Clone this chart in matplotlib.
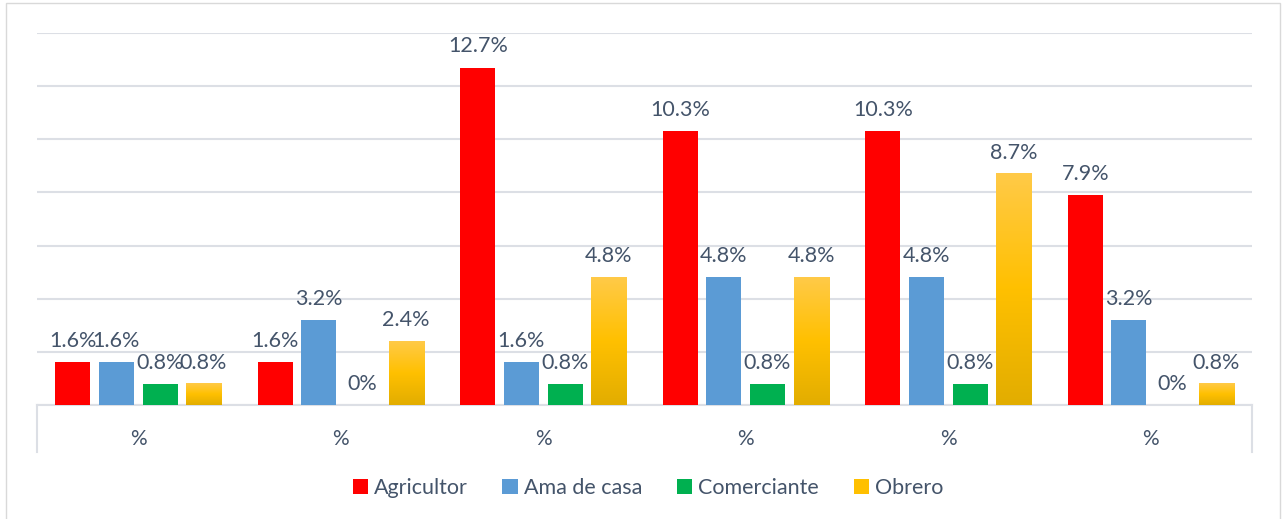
import numpy as np
import matplotlib.pyplot as plt
from matplotlib.colors import LinearSegmentedColormap
from matplotlib.patches import Patch, Rectangle

plt.rcParams['font.family'] = ['Lato', 'DejaVu Sans']

# datos
grupos = ['%', '%', '%', '%', '%', '%']
series = ['Agricultor', 'Ama de casa', 'Comerciante', 'Obrero']
agricultor = [1.6, 1.6, 12.7, 10.3, 10.3, 7.9]
ama_de_casa = [1.6, 3.2, 1.6, 4.8, 4.8, 3.2]
comerciante = [0.8, 0, 0.8, 0.8, 0.8, 0]
obrero = [0.8, 2.4, 4.8, 4.8, 8.7, 0.8]
valores = [agricultor, ama_de_casa, comerciante, obrero]

colores = ['#FF0000', '#5B9BD5', '#00B050', '#FFC000']
texto = '#44546A'
grid_c = '#DCDFE5'

fig = plt.figure(figsize=(12.82, 5.19), dpi=100)
ax = fig.add_axes([37 / 1282, 1 - 405 / 519, (1252 - 37) / 1282, (405 - 33) / 519])

x = np.arange(len(grupos))
ancho = 0.173
paso = 0.215
offsets = (np.arange(len(series)) - 1.5) * paso

barras = []
for i, (nombre, vals) in enumerate(zip(series, valores)):
    b = ax.bar(x + offsets[i], vals, ancho, color=colores[i], zorder=3)
    barras.append(b)
    for rect, v in zip(b, vals):
        etiqueta = f'{v:g}%'
        ax.annotate(etiqueta, (rect.get_x() + rect.get_width() / 2, rect.get_height()),
                    xytext=(0, 8), textcoords='offset points', ha='center', va='bottom',
                    fontsize=15.5, color=texto, zorder=5)

# degradado en las barras de Obrero
cmap_y = LinearSegmentedColormap.from_list('amarillo', ['#E2AD00', '#FFC000', '#FFCA48'])
grad = np.linspace(0, 1, 256).reshape(-1, 1)
for rect in barras[3]:
    h = rect.get_height()
    if h <= 0:
        continue
    rect.set_visible(False)
    x0 = rect.get_x()
    ax.imshow(grad, cmap=cmap_y, origin='lower', aspect='auto',
              extent=(x0, x0 + rect.get_width(), 0, h), zorder=3)

ax.set_xlim(-0.5, len(grupos) - 0.5)
ax.set_ylim(0, 14)
ax.set_yticks(np.arange(0, 15, 2))
ax.set_yticklabels([])
ax.tick_params(axis='y', length=0)
ax.set_xticks(x)
ax.set_xticklabels(grupos, fontsize=15, color=texto)
ax.tick_params(axis='x', length=0, pad=17)
ax.grid(axis='y', color=grid_c, linewidth=1.5, zorder=0)
for s in ['top', 'right', 'left']:
    ax.spines[s].set_visible(False)
ax.spines['bottom'].set_color(grid_c)
ax.spines['bottom'].set_linewidth(1.5)

# separadores en los extremos del eje
for xa in [0, 1]:
    ax.plot([xa, xa], [0, -47 / 372], transform=ax.transAxes, color=grid_c,
            linewidth=1.5, clip_on=False)

handles = [Patch(facecolor=c, label=n) for c, n in zip(colores, series)]
fig.legend(handles=handles, loc='center', bbox_to_anchor=(648 / 1282, 1 - 488 / 519),
           ncol=4, frameon=False, fontsize=15.5, handlelength=0.7, handleheight=0.7,
           handletextpad=0.3, columnspacing=1.6, labelcolor=texto)

# borde del gráfico
fig.patches.append(Rectangle((6 / 1282, -0.01), (1280 - 6) / 1282, 1 - 3 / 519 + 0.01,
                             transform=fig.transFigure, fill=False,
                             edgecolor='#D9D9D9', linewidth=1))

fig.savefig('out.png', dpi=100)
